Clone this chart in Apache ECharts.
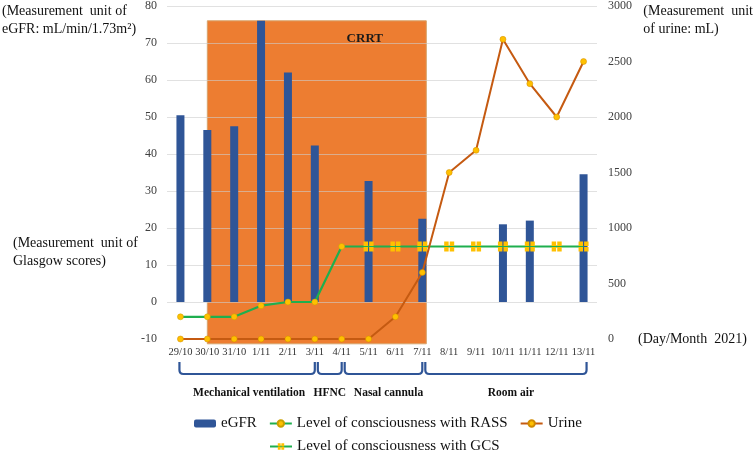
<!DOCTYPE html>
<html>
<head>
<meta charset="utf-8">
<script src="https://cdn.jsdelivr.net/npm/echarts@6/dist/echarts.min.js"></script>
<style>html,body{margin:0;padding:0;background:#fff}#c{width:755px;height:456px}</style>
</head>
<body>
<div id="c"></div>
<script>
const categories = ['29/10','30/10','31/10','1/11','2/11','3/11','4/11','5/11','6/11','7/11','8/11','9/11','10/11','11/11','12/11','13/11'];
const egfr  = [50.5, 46.5, 47.5, 76, 62, 42.3, null, 32.7, null, 22.5, null, null, 21, 22, null, 34.5];
const rass  = [-4, -4, -4, -1, 0, 0, 15, null, null, null, null, null, null, null, null, null];
const gcs   = [null, null, null, null, null, null, 15, 15, 15, 15, 15, 15, 15, 15, 15, 15];
const urine = [0, 0, 0, 0, 0, 0, 0, 0, 200, 600, 1500, 1700, 2700, 2300, 2000, 2500];
const leftTicks = { min: -10, max: 80, interval: 10 };
const rightTicks = { min: 0, max: 3000, interval: 500 };
// CRRT period: [start category index, end category index, top value, bottom value]
const crrt = [[1, 9, 76, -11.3]];
const crrtLabel = 'CRRT';
// Respiratory support periods: [start index, end index]
const periods = [[0, 5], [5, 6], [6, 9], [9, 15]];
const periodLabels = ['Mechanical ventilation', 'HFNC', 'Nasal cannula', 'Room air'];

const SERIF = "'Liberation Serif','Times New Roman',serif";
const chart = echarts.init(document.getElementById('c'), null, { renderer: 'canvas' });

const gridColors = [];
for (let i = 0; i < 10; i++) gridColors.push(i === 0 ? 'rgba(0,0,0,0)' : 'rgba(205,205,205,0.6)');

const gcsSymbol = 'path://M0,0H4V4H0Z M5,0H9V4H5Z M0,5H4V9H0Z M5,5H9V9H5Z';
const labelDx = [2, 0, 5, 5];

const option = {
  animation: false,
  backgroundColor: '#fff',
  textStyle: { fontFamily: SERIF },
  grid: { left: 167, right: 158, top: 6, bottom: 117 },
  xAxis: {
    type: 'category', data: categories,
    axisLine: { show: false }, axisTick: { show: false },
    axisLabel: { color: '#333', fontSize: 10.5, fontFamily: SERIF, margin: 8, interval: 0 }
  },
  yAxis: [
    {
      type: 'value', min: leftTicks.min, max: leftTicks.max, interval: leftTicks.interval,
      axisLine: { show: false }, axisTick: { show: false },
      axisLabel: { color: '#404040', fontSize: 12, fontFamily: SERIF, margin: 10 },
      splitLine: { show: true, lineStyle: { color: gridColors, width: 1 } }
    },
    {
      type: 'value', min: rightTicks.min, max: rightTicks.max, interval: rightTicks.interval,
      position: 'right',
      axisLine: { show: false }, axisTick: { show: false },
      axisLabel: { color: '#404040', fontSize: 12, fontFamily: SERIF, margin: 11, formatter: v => String(v) },
      splitLine: { show: false }
    }
  ],
  legend: [
    {
      data: ['eGFR', 'Level of consciousness with RASS', 'Urine'],
      left: 194, top: 416, padding: 0, itemGap: 12, itemWidth: 22, itemHeight: 8,
      textStyle: { fontSize: 15, fontFamily: SERIF, color: '#111' }
    },
    {
      data: ['Level of consciousness with GCS'],
      left: 269, top: 439, padding: 0, itemWidth: 22, itemHeight: 8,
      textStyle: { fontSize: 15, fontFamily: SERIF, color: '#111' }
    }
  ],
  graphic: [
    { type: 'text', left: 2, top: 2, style: { text: '(Measurement  unit of\neGFR: mL/min/1.73m\u00B2)', font: '14px ' + SERIF, fill: '#111', lineHeight: 18 } },
    { type: 'text', left: 13, top: 234, style: { text: '(Measurement  unit of\nGlasgow scores)', font: '14px ' + SERIF, fill: '#111', lineHeight: 18 } },
    { type: 'text', right: 2, top: 2, style: { text: '(Measurement  unit\nof urine: mL)', font: '14px ' + SERIF, fill: '#111', lineHeight: 18, align: 'right' } },
    { type: 'text', left: 638, top: 332, style: { text: '(Day/Month  2021)', font: '14px ' + SERIF, fill: '#111' } }
  ],
  series: [
    {
      name: 'CRRT', type: 'custom', z: -1, clip: false, silent: true,
      data: crrt,
      renderItem: function (params, api) {
        const p0 = api.coord([api.value(0), api.value(2)]);
        const p1 = api.coord([api.value(1), api.value(3)]);
        const x0 = p0[0], x1 = p1[0] + 4, y0 = p0[1], y1 = p1[1];
        return {
          type: 'group',
          children: [
            { type: 'rect', shape: { x: x0, y: y0, width: x1 - x0, height: y1 - y0 },
              style: { fill: '#ED7D31', stroke: '#D7A46B', lineWidth: 1 } },
            { type: 'text', x: (x0 + x1) / 2 + 48, y: y0 + 18,
              style: { text: crrtLabel, font: 'bold 13px ' + SERIF, fill: '#1a1a1a', align: 'center', verticalAlign: 'middle' } }
          ]
        };
      }
    },
    {
      name: 'Periods', type: 'custom', z: 1, clip: false, silent: true,
      data: periods.map((p, i) => ({ value: [p[0], p[1]], name: periodLabels[i] })),
      renderItem: function (params, api) {
        const i = params.dataIndex;
        const xs = api.coord([api.value(0), leftTicks.min]);
        const xe = api.coord([api.value(1), leftTicks.min]);
        const base = xs[1];
        const x0 = xs[0] + (i === 0 ? -1 : 3);
        const x1 = xe[0] + (i === periods.length - 1 ? 3 : 0);
        const yt = base + 23, yb = base + 35, r = 4;
        const d = 'M' + x0 + ',' + yt + ' L' + x0 + ',' + (yb - r) + ' Q' + x0 + ',' + yb + ' ' + (x0 + r) + ',' + yb +
                  ' L' + (x1 - r) + ',' + yb + ' Q' + x1 + ',' + yb + ' ' + x1 + ',' + (yb - r) + ' L' + x1 + ',' + yt;
        return {
          type: 'group',
          children: [
            { type: 'path', shape: { pathData: d }, style: { fill: null, stroke: '#2F5597', lineWidth: 2.2 } },
            { type: 'text', x: (x0 + x1) / 2 + labelDx[i], y: base + 54,
              style: { text: periodLabels[i], font: 'bold 11.5px ' + SERIF, fill: '#111', align: 'center', verticalAlign: 'middle' } }
          ]
        };
      }
    },
    {
      name: 'eGFR', type: 'bar', data: egfr, barWidth: 8, z: 2,
      itemStyle: { color: '#2F5597' }
    },
    {
      name: 'Level of consciousness with RASS', type: 'line', data: rass, z: 3,
      symbol: 'circle', symbolSize: 6, showAllSymbol: true,
      lineStyle: { color: '#1FAF4E', width: 2.2 },
      itemStyle: { color: '#FFC000', borderColor: '#C9A000', borderWidth: 0.5 }
    },
    {
      name: 'Level of consciousness with GCS', type: 'line', z: 3,
      data: gcs.map((v, i) => (i === 6 ? { value: v, symbol: 'none' } : v)),
      symbol: gcsSymbol, symbolSize: 10, showAllSymbol: true,
      lineStyle: { color: '#1FAF4E', width: 2.2 },
      itemStyle: { color: '#FFC000' }
    },
    {
      name: 'Urine', type: 'line', data: urine, yAxisIndex: 1, z: 4,
      symbol: 'circle', symbolSize: 6, showAllSymbol: true,
      lineStyle: { color: '#C55A11', width: 2 },
      itemStyle: { color: '#FFC000', borderColor: '#D08A00', borderWidth: 0.5 }
    }
  ]
};
chart.setOption(option);
</script>
</body>
</html>
